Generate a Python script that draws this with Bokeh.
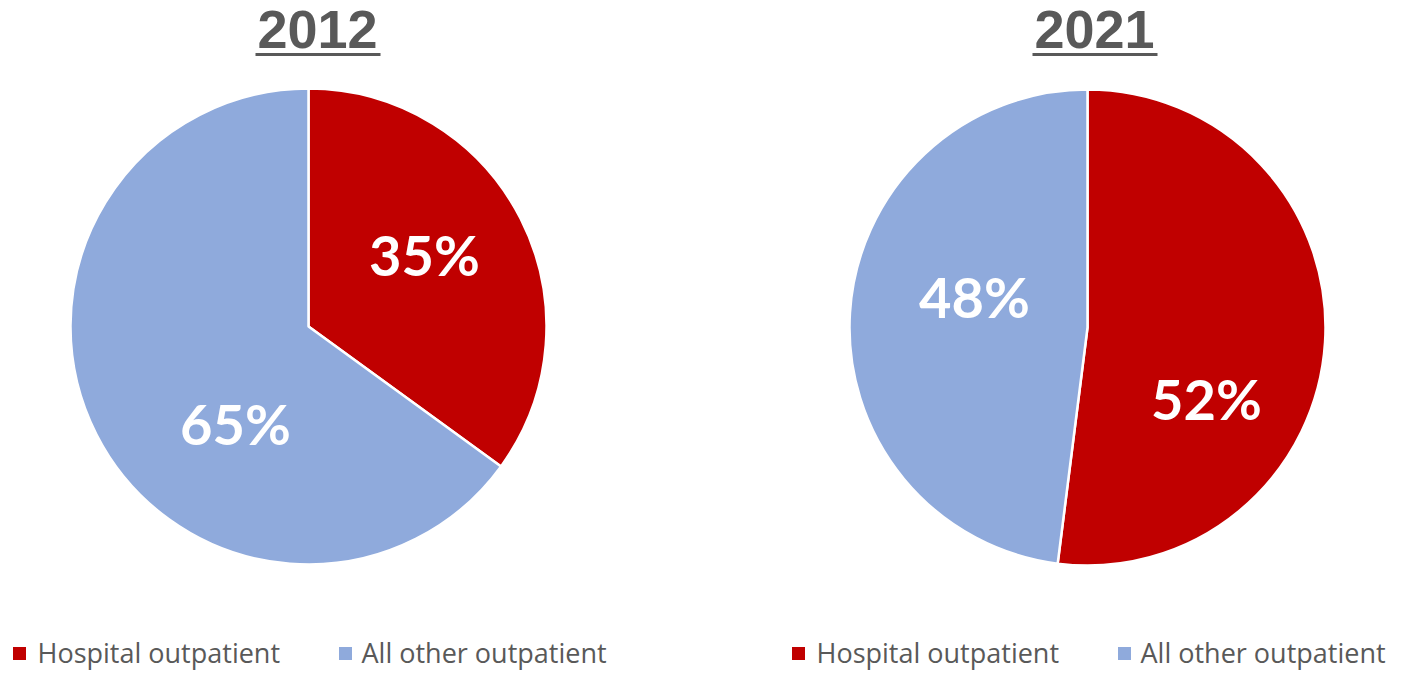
import numpy as np
from bokeh.plotting import figure
from bokeh.models import Range1d, ColumnDataSource
from bokeh.core.properties import value
from bokeh.embed import file_html
from bokeh.resources import INLINE

# ---------------- data ----------------
years = ["2012", "2021"]
categories = ["Hospital outpatient", "All other outpatient"]
share_2012 = [35, 65]
share_2021 = [52, 48]
colors = ["#C00000", "#8FAADC"]

# ---------------- layout ----------------
W, H = 1396, 670


def X(tx):
    return tx


def Y(ty):
    return H - ty


pie_centers = [(308, 326), (1087, 327)]
radius = 238
title_x = [317, 1094]
title_y = 29
# label offsets (px, screen coords) from each pie centre, one per category
label_offsets = [[(116, -72), (-73, 97)], [(119, 71), (-113, -31)]]
legend_sq_x = [[19, 345], [798, 1124]]     # square centres
legend_txt_x = [[37, 361], [816, 1140]]    # text starts
legend_y = 652

p = figure(width=W, height=H, x_range=Range1d(0, W), y_range=Range1d(0, H),
           output_backend="svg", toolbar_location=None, min_border=0,
           x_axis_location=None, y_axis_location=None, title=None)
p.grid.visible = False
p.outline_line_color = None
p.background_fill_color = "white"

for k, shares in enumerate([share_2012, share_2021]):
    cx, cy = pie_centers[k]
    fr = np.array(shares, dtype=float) / sum(shares)
    cum = np.concatenate([[0], np.cumsum(fr)]) * 2 * np.pi  # clockwise from top
    starts = np.pi / 2 - cum[1:]
    ends = np.pi / 2 - cum[:-1]
    src = ColumnDataSource(dict(
        x=[X(cx)] * len(shares), y=[Y(cy)] * len(shares),
        start=starts, end=ends, color=colors[:len(shares)]))
    p.wedge(x="x", y="y", radius=radius, start_angle="start", end_angle="end",
            fill_color="color", line_color="white", line_width=2.5, source=src)

    # percentage labels
    lx = [X(cx + dx) for dx, dy in label_offsets[k]]
    ly = [Y(cy + dy) for dx, dy in label_offsets[k]]
    p.text(x=lx, y=ly, text=[f"{v}%" for v in shares],
           text_font=value("Lato"), text_font_style="bold",
           text_font_size="56px", text_color="white",
           text_align="center", text_baseline="middle")

    # title with underline
    p.text(x=[X(title_x[k])], y=[Y(title_y)], text=[years[k]],
           text_font=value("Liberation Sans"), text_font_style="bold",
           text_font_size="54px", text_color="#595959",
           text_align="center", text_baseline="middle")
    p.segment(x0=[X(title_x[k] - 62)], x1=[X(title_x[k] + 63)],
              y0=[Y(54)], y1=[Y(54)], line_color="#595959", line_width=3)

    # legend
    p.scatter(x=[X(v) for v in legend_sq_x[k]], y=[Y(legend_y + 1)] * 2,
              marker="square", size=13, fill_color=colors, line_color=None)
    p.text(x=[X(v) for v in legend_txt_x[k]], y=[Y(legend_y)] * 2,
           text=categories, text_font=value("Open Sans"), text_font_size="27px",
           text_color="#595959", text_align="left", text_baseline="middle")

open("out.html", "w").write(file_html(p, INLINE))
